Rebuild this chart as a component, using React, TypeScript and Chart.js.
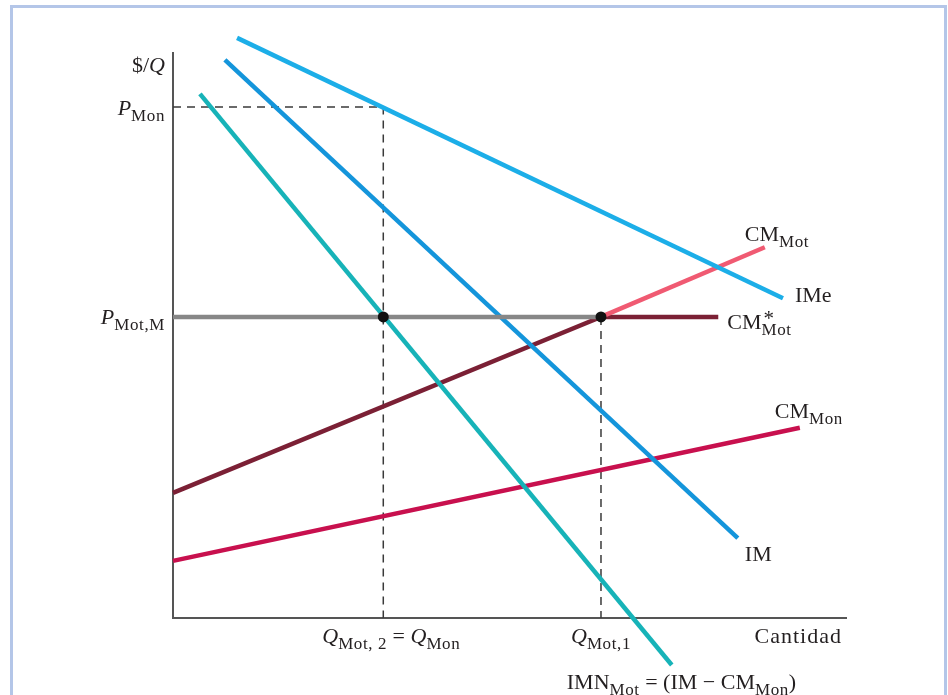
import React, { useEffect, useRef } from "react";
import { Chart, registerables } from "chart.js";

Chart.register(...registerables);

// Key quantities / prices (chart units: Q 0..10, $/Q 0..10)
const qTicks = [3.12, 6.35]; // Q_Mot,2 = Q_Mon, Q_Mot,1
const pTicks = [9.03, 5.32]; // P_Mon, P_Mot,M

// Curves: [Q values], [P values]
const imeQ = [0.95, 9.05];
const imeP = [10.25, 5.65];
const imQ = [0.77, 8.38];
const imP = [9.86, 1.41];
const imnQ = [0.4, 7.4];
const imnP = [9.26, -0.83];
const cmStarQ = [0, 6.35, 8.09];
const cmStarP = [2.21, 5.32, 5.32];
const cmMotQ = [6.35, 8.78];
const cmMotP = [5.32, 6.55];
const cmMonQ = [0, 9.3];
const cmMonP = [1.01, 3.36];

const pts = (xs: number[], ys: number[]) => xs.map((x, i) => ({ x, y: ys[i] }));

type Seg = { t: string; it?: boolean; sub?: boolean; sup?: boolean; ls?: number };

const FONT = "Liberation Serif";
const MAIN = 22;
const SMALL = 17;

function segFont(s: Seg) {
  const size = s.sub ? SMALL : s.sup ? 21 : MAIN;
  return `${s.it ? "italic " : ""}${size}px "${FONT}"`;
}

function drawRich(ctx: any, x: number, y: number, segs: Seg[], align: "left" | "center" | "right") {
  ctx.save();
  ctx.textBaseline = "alphabetic";
  ctx.textAlign = "left";
  ctx.fillStyle = "#231f20";
  const widths: number[] = segs.map((s) => {
    ctx.font = segFont(s);
    ctx.letterSpacing = `${s.ls ?? (s.sub ? 0.6 : 0)}px`;
    return ctx.measureText(s.t).width;
  });
  let total = 0;
  segs.forEach((s, i) => {
    if (s.sup) return;
    total += widths[i];
  });
  let cx = align === "left" ? x : align === "center" ? x - total / 2 : x - total;
  segs.forEach((s, i) => {
    ctx.font = segFont(s);
    ctx.letterSpacing = `${s.ls ?? (s.sub ? 0.6 : 0)}px`;
    if (s.sup) {
      ctx.fillText(s.t, cx + 2, y - 4);
      return;
    }
    ctx.fillText(s.t, cx, s.sub ? y + 6 : y);
    cx += widths[i];
  });
  ctx.restore();
}

const framePlugin = {
  id: "frame",
  beforeDraw(chart: any) {
    const ctx = chart.ctx;
    ctx.save();
    ctx.fillStyle = "#ffffff";
    ctx.fillRect(0, 0, chart.width, chart.height);
    ctx.strokeStyle = "#b4c6e8";
    ctx.lineWidth = 3;
    ctx.strokeRect(11.5, 6.5, 934, 800);
    ctx.restore();
  },
};

const labelPlugin = {
  id: "labels",
  afterDatasetsDraw(chart: any) {
    const ctx = chart.ctx;
    const xs = chart.scales.x;
    const ys = chart.scales.y;
    const X = (v: number) => xs.getPixelForValue(v);
    const Y = (v: number) => ys.getPixelForValue(v);
    const x0 = X(0);

    drawRich(ctx, x0 - 8, Y(10) + 20, [{ t: "$/" }, { t: "Q", it: true }], "right");
    drawRich(ctx, x0 - 8, Y(pTicks[0]) + 8, [{ t: "P", it: true }, { t: "Mon", sub: true }], "right");
    drawRich(ctx, x0 - 8, Y(pTicks[1]) + 7, [{ t: "P", it: true }, { t: "Mot,M", sub: true }], "right");

    drawRich(ctx, X(imeQ[1]) + 12, Y(imeP[1]) + 4, [{ t: "IMe" }], "left");
    drawRich(ctx, X(cmMotQ[1]) - 20, Y(cmMotP[1]) - 6, [{ t: "CM" }, { t: "Mot", sub: true }], "left");
    drawRich(ctx, X(cmStarQ[2]) + 9, Y(cmStarP[2]) + 12, [{ t: "CM" }, { t: "*", sup: true }, { t: "Mot", sub: true }], "left");
    drawRich(ctx, X(cmMonQ[1]) - 25, Y(cmMonP[1]) - 10, [{ t: "CM" }, { t: "Mon", sub: true }], "left");
    drawRich(ctx, X(imQ[1]) + 7, Y(imP[1]) + 23, [{ t: "IM" }], "left");
    drawRich(ctx, X(imnQ[1]) - 105, Y(imnP[1]) + 24,
      [{ t: "IMN" }, { t: "Mot", sub: true }, { t: " = (IM − CM" }, { t: "Mon", sub: true }, { t: ")" }], "left");

    const yb = Y(0) + 25;
    drawRich(ctx, X(qTicks[0]) + 8, yb,
      [{ t: "Q", it: true }, { t: "Mot, 2", sub: true }, { t: " = " }, { t: "Q", it: true }, { t: "Mon", sub: true }], "center");
    drawRich(ctx, X(qTicks[1]), yb, [{ t: "Q", it: true }, { t: "Mot,1", sub: true }], "center");
    drawRich(ctx, X(10) - 5, yb, [{ t: "Cantidad", ls: 1 }], "right");
  },
};

export default function App() {
  const ref = useRef<HTMLCanvasElement>(null);
  useEffect(() => {
    document.body.style.overflow = "hidden";
    // order: higher value is drawn first (underneath)
    const line = (data: any, color: string, order: number, width = 4.5, extra: any = {}) => ({
      type: "line",
      data,
      order,
      borderColor: color,
      borderWidth: width,
      pointRadius: 0,
      fill: false,
      tension: 0,
      clip: false,
      borderCapStyle: "butt",
      ...extra,
    });
    const dash = { borderDash: [8, 6] };
    const chart = new Chart(ref.current as HTMLCanvasElement, {
      type: "line",
      data: {
        datasets: [
          line(pts([0, 0, 10], [10, 0, 0]), "#555555", 12, 2),
          line(pts([0, qTicks[0], qTicks[0]], [pTicks[0], pTicks[0], 0]), "#3a3a3a", 11, 1.5, dash),
          line(pts([qTicks[1], qTicks[1]], [pTicks[1], 0]), "#3a3a3a", 10, 1.5, dash),
          line(pts(cmMonQ, cmMonP), "#c8104e", 9),
          line(pts(cmStarQ, cmStarP), "#7b2035", 8),
          line(pts(cmMotQ, cmMotP), "#f05a72", 7),
          line(pts(imQ, imP), "#1495db", 6),
          line(pts(imnQ, imnP), "#17b3b8", 5),
          line(pts([0, qTicks[1]], [pTicks[1], pTicks[1]]), "#878787", 4),
          line(pts(imeQ, imeP), "#1caee8", 3),
          {
            type: "line",
            data: pts(qTicks, [pTicks[1], pTicks[1]]),
            order: 0,
            showLine: false,
            pointRadius: 5.5,
            pointBackgroundColor: "#111111",
            pointBorderColor: "#111111",
            pointBorderWidth: 0,
            clip: false,
          },
        ] as any,
      },
      options: {
        animation: false,
        responsive: false,
        maintainAspectRatio: false,
        layout: { padding: { left: 173, top: 52, right: 101, bottom: 77 } },
        plugins: { legend: { display: false }, tooltip: { enabled: false } },
        scales: {
          x: { type: "linear", min: 0, max: 10, display: false },
          y: { type: "linear", min: 0, max: 10, display: false },
        },
      },
      plugins: [framePlugin, labelPlugin],
    } as any);
    return () => chart.destroy();
  }, []);
  return (
    <div style={{ position: "absolute", left: 0, top: 0, width: 948, height: 695 }}>
      <canvas ref={ref} width={948} height={695} style={{ display: "block", width: 948, height: 695 }} />
    </div>
  );
}
